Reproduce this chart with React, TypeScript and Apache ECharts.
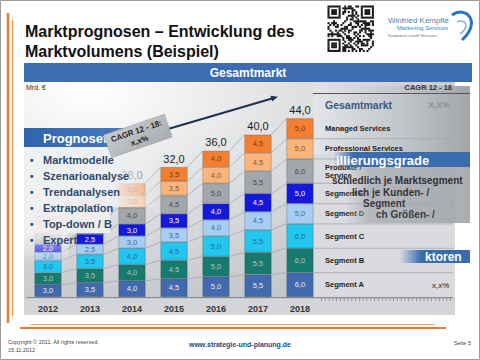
import React, { useEffect, useRef } from "react";
import * as echarts from "echarts";

const YEARS = ["2012", "2013", "2014", "2015", "2016", "2017", "2018"];
const SEG_A = [3.0, 3.5, 4.0, 4.5, 5.0, 5.5, 6.0];
const SEG_B = [3.0, 3.5, 4.0, 4.5, 5.0, 5.5, 6.0];
const SEG_C = [3.0, 3.5, 4.0, 4.5, 5.0, 5.5, 6.0];
const SEG_D = [2.0, 2.5, 3.0, 3.5, 4.0, 4.5, 5.0];
const SEG_E = [2.0, 2.5, 3.0, 3.5, 4.0, 4.5, 5.0];
const PRODUKTE = [3.0, 3.5, 4.0, 4.5, 5.0, 5.5, 6.0];
const PROFESSIONAL = [2.0, 2.5, 3.0, 3.5, 4.0, 4.5, 5.0];
const MANAGED = [2.0, 2.5, 3.0, 3.5, 4.0, 4.5, 5.0];
const TOTALS = [20, 24, 28, 32, 36, 40, 44];
const LEGEND_LABELS = [
  "Segment A",
  "Segment B",
  "Segment C",
  "Segment D",
  "Segment E",
  "Produkte /\nService",
  "Professional Services",
  "Managed Services",
];
const BULLETS = ["Marktmodelle", "Szenarioanalyse", "Trendanalysen", "Extrapolation", "Top-down / B", "Expert"];

const FF = '"Liberation Sans", Arial, sans-serif';

const SERIES = [
  { data: SEG_A, color: "#4169ad", label: "#e6ecf6" },
  { data: SEG_B, color: "#177a6e", label: "#a9c9c4" },
  { data: SEG_C, color: "#22c6ef", label: "#2b6b8a" },
  { data: SEG_D, color: "#a8cdf3", label: "#4d6a8c" },
  { data: SEG_E, color: "#1418dc", label: "#ffffff" },
  { data: PRODUKTE, color: "#a3a6aa", label: "#4a4a4a" },
  { data: PROFESSIONAL, color: "#fbb47a", label: "#8a5525" },
  { data: MANAGED, color: "#f47f30", label: "#7a3a10" },
];

// segments whose labels sit under the "Prognosetechniken" overlay panel
const coveredLabel = (yearIdx: number, seriesIdx: number) => yearIdx < 2 && seriesIdx >= 5;
const coveredTotal = (yearIdx: number) => yearIdx < 2;

const fmt = (v: number) => v.toFixed(1).replace(".", ",");

function qrRects() {
  const N = 25;
  const m = 1.85;
  const ox = 327.5;
  const oy = 5.5;
  const finder = (r: number, c: number) => {
    const inF = (r0: number, c0: number) => r >= r0 && r < r0 + 7 && c >= c0 && c < c0 + 7;
    const test = (r0: number, c0: number) => {
      const rr = r - r0, cc = c - c0;
      if (rr === 0 || rr === 6 || cc === 0 || cc === 6) return 1;
      if (rr >= 2 && rr <= 4 && cc >= 2 && cc <= 4) return 1;
      return 0;
    };
    if (inF(0, 0)) return test(0, 0);
    if (inF(0, 18)) return test(0, 18);
    if (inF(18, 0)) return test(18, 0);
    if ((r === 7 && (c < 8 || c > 16)) || (c === 7 && (r < 8 || r > 16)) || (r === 17 && c < 8) || (c === 17 && r < 8)) return 0;
    return -1;
  };
  const out: any[] = [];
  for (let r = 0; r < N; r++) {
    let start = -1;
    for (let c = 0; c <= N; c++) {
      let dark = false;
      if (c < N) {
        const f = finder(r, c);
        dark = f === -1 ? ((r * 31 + c * 17 + ((r * c) % 7)) % 3 === 0 || ((r ^ c) % 5 === 1)) : f === 1;
      }
      if (dark && start < 0) start = c;
      if (!dark && start >= 0) {
        out.push({
          type: "rect",
          z: 1,
          shape: { x: ox + start * m, y: oy + r * m, width: (c - start) * m + 0.2, height: m + 0.2 },
          style: { fill: "#1a1a1a" },
        });
        start = -1;
      }
    }
  }
  return out;
}

function txt(x: number, y: number, text: string, size: number, color: string, opts: any = {}) {
  return {
    type: "text",
    x,
    y,
    z: opts.z ?? 100,
    rotation: opts.rotation ?? 0,
    style: {
      text,
      fill: color,
      fontSize: size,
      fontWeight: opts.bold ? "bold" : "normal",
      fontFamily: FF,
      align: opts.align ?? "left",
      verticalAlign: opts.va ?? "middle",
      lineHeight: opts.lh,
      opacity: opts.opacity ?? 1,
    },
  };
}

export default function App() {
  const ref = useRef<HTMLDivElement>(null);

  useEffect(() => {
    if (!ref.current) return;
    const chart = echarts.init(ref.current, null, { renderer: "svg" });

    const cum: number[][] = YEARS.map((_, i) => {
      const arr = [0];
      SERIES.forEach((s, k) => arr.push(arr[k] + s.data[i]));
      return arr;
    });
    const N = YEARS.length;
    const HALF = 13.5;

    const graphic: any[] = [
      { type: "rect", z: -10, shape: { x: 0.5, y: 0.5, width: 479, height: 359 }, style: { fill: "#ffffff", stroke: "#9a9a9a", lineWidth: 1 } },
      // orange decoration lines
      { type: "line", z: 1, shape: { x1: 8, y1: 13, x2: 8, y2: 323 }, style: { stroke: "#ef7a2e", lineWidth: 2.5 } },
      { type: "line", z: 1, shape: { x1: 12.5, y1: 20, x2: 12.5, y2: 316 }, style: { stroke: "#f39a5c", lineWidth: 1.5 } },
      { type: "line", z: 1, shape: { x1: 20, y1: 328, x2: 446, y2: 328 }, style: { stroke: "#ef7a2e", lineWidth: 2 } },
      { type: "line", z: 1, shape: { x1: 30, y1: 324.5, x2: 435, y2: 324.5 }, style: { stroke: "#f6a86e", lineWidth: 1 } },
      // title
      txt(25, 31, "Marktprognosen – Entwicklung des", 16, "#111111", { bold: true, z: 1 }),
      txt(25, 51, "Marktvolumens (Beispiel)", 16, "#111111", { bold: true, z: 1 }),
      // logo
      txt(388, 20, "Winfried Kempfle", 8, "#5a7aa8", { z: 1 }),
      txt(448, 28, "Marketing Services", 6, "#3a8ad0", { z: 1, align: "right" }),
      txt(388, 36, "Kompetenz schafft Vertrauen", 3.8, "#557799", { z: 1 }),
      { type: "bezierCurve", z: 1, shape: { x1: 452, y1: 15, cpx1: 466, cpy1: 5, cpx2: 482, cpy2: 22, x2: 462, y2: 40 }, style: { stroke: "#2b73c4", lineWidth: 3, fill: "none" } },
      { type: "bezierCurve", z: 1, shape: { x1: 457, y1: 22, cpx1: 466, cpy1: 18, cpx2: 470, cpy2: 27, x2: 460, y2: 34 }, style: { stroke: "#7fb0e0", lineWidth: 1.5, fill: "none" } },
      ...qrRects(),
      // chart panel background
      {
        type: "rect",
        z: 0,
        shape: { x: 24, y: 82, width: 431, height: 233 },
        style: {
          fill: new echarts.graphic.RadialGradient(0.15, 0.05, 0.95, [
            { offset: 0, color: "#ffffff" },
            { offset: 0.45, color: "#e2e3e5" },
            { offset: 1, color: "#c3c6ca" },
          ]),
        },
      },
      { type: "rect", z: 0, shape: { x: 313, y: 150, width: 142, height: 148 }, style: { fill: "#d9dbde" } },
      { type: "rect", z: 0, shape: { x: 24, y: 299, width: 431, height: 16 }, style: { fill: "#d3d5d8" } },
      {
        type: "rect",
        z: 0,
        shape: { x: 313, y: 86, width: 157, height: 68 },
        style: {
          fill: new echarts.graphic.LinearGradient(0, 0, 1, 0, [
            { offset: 0, color: "#e3e5e7" },
            { offset: 0.55, color: "#c3c6ca" },
            { offset: 1, color: "#a2a6ab" },
          ]),
        },
      },
      { type: "line", z: 1, shape: { x1: 313, y1: 93.5, x2: 470, y2: 93.5 }, style: { stroke: "#555", lineWidth: 1 } },
      txt(452, 87, "CAGR 12 - 18", 7.5, "#333", { bold: true, align: "right", z: 1 }),
      txt(325, 105, "Gesamtmarkt", 10.5, "#3c5a82", { bold: true, z: 1 }),
      txt(428, 105, "X,X%", 9, "#8d9094", { bold: true, z: 1 }),
      txt(432, 285, "x,x%", 8, "#222", { z: 1 }),
      // extended axis to the right
      { type: "line", z: 1, shape: { x1: 321, y1: 297.5, x2: 453, y2: 297.5 }, style: { stroke: "#8a8a8a", lineWidth: 1 } },
      { type: "line", z: 1, shape: { x1: 321, y1: 299.5, x2: 453, y2: 299.5 }, style: { stroke: "#8a8a8a", lineWidth: 3, lineDash: [0.8, 3] } },
      // Gesamtmarkt header
      { type: "rect", z: 1, shape: { x: 24, y: 63, width: 448, height: 19 }, style: { fill: "#3c6cb1" } },
      txt(248, 73, "Gesamtmarkt", 12, "#ffffff", { bold: true, align: "center", z: 2 }),
      txt(26, 87, "Mrd. €", 7, "#333", { z: 1 }),
      // footer
      txt(8, 342, "Copyright © 2011. All rights reserved.", 5.5, "#444", { z: 1 }),
      txt(8, 350, "15.11.2012", 5.5, "#444", { z: 1 }),
      txt(240, 344, "www.strategie-und-planung.de", 7, "#1a4a8a", { bold: true, align: "center", z: 1 }),
      txt(471, 343, "Seite 5", 5.5, "#444", { align: "right", z: 1 }),

      // ===== overlays =====
      { type: "rect", z: 100, shape: { x: 24, y: 147, width: 86, height: 86 }, style: { fill: "rgba(239,240,242,0.94)" } },
      {
        type: "rect",
        z: 100,
        shape: { x: 110, y: 147, width: 50, height: 60 },
        style: {
          fill: new echarts.graphic.LinearGradient(0, 0, 1, 0, [
            { offset: 0, color: "rgba(239,240,242,0.94)" },
            { offset: 0.6, color: "rgba(239,240,242,0.6)" },
            { offset: 1, color: "rgba(239,240,242,0)" },
          ]),
        },
      },
      {
        type: "rect",
        z: 100,
        shape: { x: 24, y: 233, width: 44, height: 30 },
        style: {
          fill: new echarts.graphic.LinearGradient(0, 0, 0, 1, [
            { offset: 0, color: "rgba(245,246,247,0.8)" },
            { offset: 1, color: "rgba(245,246,247,0)" },
          ]),
        },
      },
      {
        type: "rect",
        z: 100,
        shape: { x: 24, y: 128, width: 112, height: 19 },
        style: {
          fill: new echarts.graphic.LinearGradient(0, 0, 1, 0, [
            { offset: 0, color: "#2f63ab" },
            { offset: 1, color: "#4a7dc2" },
          ]),
        },
      },
      txt(43, 138, "Prognosete", 13, "#ffffff", { bold: true, z: 101 }),
      ...BULLETS.flatMap((b, i) => [
        txt(30, 160 + i * 16, "•", 10, "#2e4a6e", { bold: true, z: 101 }),
        txt(43, 160 + i * 16, b, 11, "#2e4a6e", { bold: true, z: 101 }),
      ]),
      // CAGR tag with arrow
      { type: "line", z: 102, shape: { x1: 168, y1: 129, x2: 272, y2: 98.5 }, style: { stroke: "#1f3050", lineWidth: 2 } },
      { type: "polygon", z: 102, shape: { points: [[278, 96.7], [272.1, 101.5], [270.5, 95.7]] }, style: { fill: "#1f3050" } },
      {
        type: "group",
        x: 138,
        y: 136,
        rotation: 0.33,
        z: 103,
        children: [
          {
            type: "rect",
            z: 103,
            shape: { x: -32, y: -12, width: 64, height: 24 },
            style: {
              fill: new echarts.graphic.LinearGradient(0, 0, 1, 1, [
                { offset: 0, color: "#c9cbce" },
                { offset: 1, color: "#a9acb0" },
              ]),
              stroke: "#9a9da1",
              lineWidth: 0.5,
            },
          },
          txt(0, -5, "CAGR 12 - 18:", 8, "#222", { bold: true, align: "center", z: 104 }),
          txt(0, 5, "x,x%", 8, "#222", { bold: true, align: "center", z: 104 }),
        ],
      },
      // right overlay
      {
        type: "rect",
        z: 100,
        shape: { x: 345, y: 167, width: 125, height: 56 },
        style: {
          fill: new echarts.graphic.LinearGradient(0, 0, 1, 0, [
            { offset: 0, color: "rgba(165,168,173,0)" },
            { offset: 0.2, color: "rgba(165,168,173,0.7)" },
            { offset: 1, color: "rgba(160,163,168,0.9)" },
          ]),
        },
      },
      {
        type: "rect",
        z: 101,
        shape: { x: 333, y: 152, width: 137, height: 15 },
        style: {
          fill: new echarts.graphic.LinearGradient(0, 0, 1, 0, [
            { offset: 0, color: "rgba(58,108,176,0)" },
            { offset: 0.15, color: "rgba(58,108,176,1)" },
            { offset: 1, color: "#3a6cb0" },
          ]),
        },
      },
      txt(336, 160, "illierungsgrade", 13, "#ffffff", { bold: true, z: 102 }),
      txt(332, 180, "schiedlich je Marktsegment", 10, "#333333", { bold: true, z: 102 }),
      txt(352, 192, "lich je Kunden- /", 10, "#333333", { bold: true, z: 102 }),
      txt(363, 203, "Segment", 10, "#3a3a3a", { bold: true, z: 102 }),
      txt(376, 214, "ch Größen- /", 10, "#3a3a3a", { bold: true, z: 102 }),
      {
        type: "rect",
        z: 101,
        shape: { x: 400, y: 250, width: 70, height: 13 },
        style: {
          fill: new echarts.graphic.LinearGradient(0, 0, 1, 0, [
            { offset: 0, color: "rgba(58,108,176,0)" },
            { offset: 0.3, color: "rgba(58,108,176,1)" },
            { offset: 1, color: "#3a6cb0" },
          ]),
        },
      },
      txt(425, 257, "ktoren", 12, "#ffffff", { bold: true, z: 102 }),
    ];

    chart.setOption({
      animation: false,
      grid: { left: 27, top: 94, width: 294, height: 203 },
      xAxis: {
        type: "category",
        data: YEARS,
        axisLine: { lineStyle: { color: "#8a8a8a" } },
        axisTick: { length: 3, lineStyle: { color: "#8a8a8a" } },
        axisLabel: { fontSize: 9, fontWeight: "bold", color: "#333", margin: 7, fontFamily: FF },
      },
      yAxis: { type: "value", min: 0, max: 50, show: false, splitLine: { show: false } },
      graphic,
      series: [
        ...SERIES.map((s, k) => ({
          type: "bar",
          stack: "total",
          barWidth: 27,
          data: s.data.map((v, i) => (coveredLabel(i, k) ? { value: v, label: { show: false } } : v)),
          z: 2,
          itemStyle: { color: s.color, borderColor: "rgba(70,70,70,0.5)", borderWidth: 0.6 },
          label: {
            show: true,
            position: "inside",
            fontSize: 7.5,
            color: s.label,
            fontFamily: FF,
            formatter: (p: any) => fmt(p.value),
          },
        })),
        {
          type: "custom",
          clip: false,
          silent: true,
          z: 3,
          data: YEARS.map((_, i) => [i, TOTALS[i]]),
          encode: { x: 0, y: 1 },
          renderItem: (params: any, api: any) => {
            const i = api.value(0);
            const children: any[] = [];
            for (let k = 1; k <= SERIES.length; k++) {
              const a = api.coord([i, cum[i][k]]);
              if (i < N - 1) {
                const b = api.coord([i + 1, cum[i + 1][k]]);
                children.push({
                  type: "line",
                  shape: { x1: a[0] + HALF, y1: a[1], x2: b[0] - HALF, y2: b[1] },
                  style: { stroke: "#9ea1a5", lineWidth: 0.7 },
                });
              } else if (k < SERIES.length) {
                children.push({
                  type: "line",
                  shape: { x1: a[0] + HALF, y1: a[1], x2: 453, y2: a[1] },
                  style: { stroke: "#a5a8ac", lineWidth: 0.8 },
                });
              }
            }
            if (i === N - 1) {
              for (let k = 0; k < SERIES.length; k++) {
                const lo = api.coord([i, cum[i][k]]);
                const hi = api.coord([i, cum[i][k + 1]]);
                children.push({
                  type: "text",
                  style: {
                    text: LEGEND_LABELS[k],
                    x: 325,
                    y: (lo[1] + hi[1]) / 2,
                    fill: "#222",
                    fontSize: 7.5,
                    fontWeight: "bold",
                    fontFamily: FF,
                    align: "left",
                    verticalAlign: "middle",
                    lineHeight: 8,
                  },
                });
              }
            }
            if (!coveredTotal(i)) {
              const t = api.coord([i, TOTALS[i]]);
              children.push({
                type: "text",
                style: {
                  text: fmt(TOTALS[i]),
                  x: t[0],
                  y: t[1] - 3,
                  fill: "#222",
                  fontSize: 11,
                  fontFamily: FF,
                  align: "center",
                  verticalAlign: "bottom",
                },
              });
            }
            return { type: "group", children };
          },
        },
      ],
    });

    return () => chart.dispose();
  }, []);

  return <div ref={ref} style={{ position: "absolute", left: 0, top: 0, width: 480, height: 360 }} />;
}
